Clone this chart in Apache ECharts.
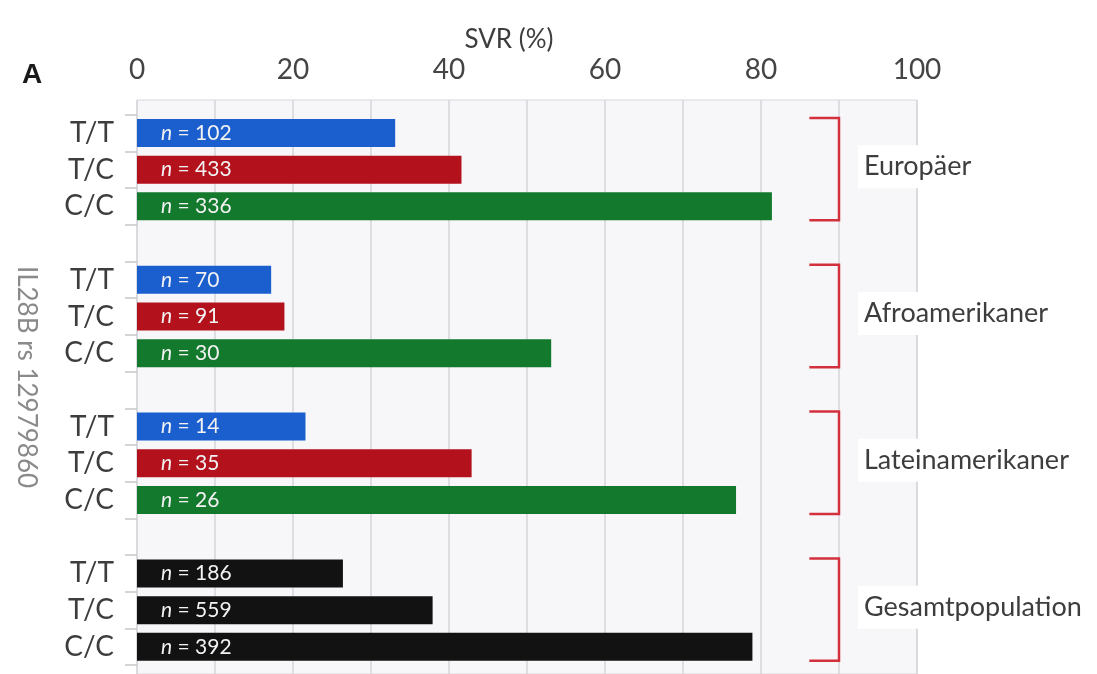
<!DOCTYPE html>
<html>
<head>
<meta charset="utf-8">
<script src="https://cdn.jsdelivr.net/npm/echarts@6/dist/echarts.min.js"></script>
<style>
  html, body { margin: 0; padding: 0; background: #ffffff; }
  #chart { width: 1097px; height: 674px; }
</style>
</head>
<body>
<div id="chart"></div>
<script>
// ---------- data ----------
const genotypes = ['T/T', 'T/C', 'C/C', '', 'T/T', 'T/C', 'C/C', '', 'T/T', 'T/C', 'C/C', '', 'T/T', 'T/C', 'C/C'];
const svrValues = [33.1, 41.6, 81.4, null, 17.2, 18.9, 53.1, null, 21.6, 42.9, 76.8, null, 26.4, 37.9, 78.9];
const nValues   = [102, 433, 336, null, 70, 91, 30, null, 14, 35, 26, null, 186, 559, 392];
const groupNames = ['Europäer', 'Afroamerikaner', 'Lateinamerikaner', 'Gesamtpopulation'];
const groupStart = [0, 4, 8, 12];
const groupEnd   = [2, 6, 10, 14];
const xTickLabels = ['0', '20', '40', '60', '80', '100'];
const yAxisTitle = 'IL28B rs 12979860';
const xAxisTitle = 'SVR (%)';
const panelLetter = 'A';

// ---------- styles ----------
const genoColors = { 'T/T': '#1b5fcf', 'T/C': '#b3121c', 'C/C': '#13792d' };
const totalColor = '#121212';
const FONT = 'Lato, "Open Sans", sans-serif';
const textGray = '#3d3d3d';

const barData = svrValues.map((v, i) => {
  if (v === null) return '-';
  const color = i >= groupStart[3] ? totalColor : genoColors[genotypes[i]];
  return { value: v, itemStyle: { color: color } };
});

const bracketData = groupNames.map((g, i) => [groupStart[i], groupEnd[i], i]);

const chart = echarts.init(document.getElementById('chart'), null, { renderer: 'canvas' });

const option = {
  animation: false,
  backgroundColor: '#ffffff',
  textStyle: { fontFamily: FONT },
  graphic: [
    { type: 'text', left: 22, top: 61, style: { text: panelLetter, font: 'bold 28px "Liberation Sans", Arial, sans-serif', fill: '#1a1a1a' } },
    { type: 'text', x: 509, y: 40, style: { text: xAxisTitle, font: '26px ' + FONT, fill: textGray, align: 'center', verticalAlign: 'middle' } },
    { type: 'text', x: 26, y: 377, rotation: -Math.PI / 2, style: { text: yAxisTitle, font: '26px ' + FONT, fill: '#8a8a8a', align: 'center', verticalAlign: 'middle' } }
  ],
  grid: [
    { left: 137, right: 180, top: 100, bottom: 0, show: true, backgroundColor: '#f7f7f9', borderColor: '#d8d8dc', borderWidth: 1 },
    { left: 137, right: 180, top: 114.6, height: 550.6 }
  ],
  xAxis: [
    {
      gridIndex: 0, type: 'value', position: 'top', min: 0, max: 100, interval: 10,
      axisLine: { show: false }, axisTick: { show: false },
      splitLine: { show: true, lineStyle: { color: '#d6d6da', width: 1.5 } },
      axisLabel: {
        margin: 16, fontSize: 28, color: '#454545', fontFamily: FONT,
        formatter: function (v) { return xTickLabels.indexOf(String(v)) >= 0 ? String(v) : ''; }
      }
    },
    { gridIndex: 1, type: 'value', min: 0, max: 100, show: false }
  ],
  yAxis: [
    { gridIndex: 0, type: 'value', show: false },
    {
      gridIndex: 1, type: 'category', inverse: true, data: genotypes,
      axisLine: { show: false },
      axisTick: { show: true, length: 12, lineStyle: { color: '#c8c8cc', width: 1.5 } },
      axisLabel: { margin: 23, fontSize: 28, color: textGray, fontFamily: FONT }
    }
  ],
  series: [
    {
      type: 'bar', xAxisIndex: 1, yAxisIndex: 1, barWidth: 28,
      data: barData,
      label: {
        show: true, position: 'insideLeft', distance: 24,
        formatter: function (p) { return '{i|n} = ' + nValues[p.dataIndex]; },
        color: '#f2f2f2', fontSize: 21, fontFamily: FONT,
        rich: { i: { fontStyle: 'italic', fontSize: 21, color: '#f2f2f2', fontFamily: FONT } }
      }
    },
    {
      type: 'custom', xAxisIndex: 1, yAxisIndex: 1, clip: false, silent: true,
      data: bracketData,
      renderItem: function (params, api) {
        const s = api.value(0), e = api.value(1), gi = api.value(2);
        const pTop = api.coord([86.2, s]);
        const pBot = api.coord([86.2, e]);
        const xv = api.coord([90, s])[0];
        const yTop = pTop[1] - 15;
        const yBot = pBot[1] + 14;
        const mid = api.coord([93.2, (s + e) / 2]);
        return {
          type: 'group',
          children: [
            {
              type: 'polyline',
              shape: { points: [[pTop[0], yTop], [xv, yTop], [xv, yBot], [pBot[0], yBot]] },
              style: { stroke: '#d3303e', lineWidth: 2.5, fill: null }
            },
            {
              type: 'text',
              x: mid[0] - 6, y: mid[1] - 3,
              style: {
                text: groupNames[gi], font: '27px ' + FONT, fill: textGray,
                align: 'left', verticalAlign: 'middle',
                backgroundColor: '#ffffff', padding: [8, 6, 8, 6]
              }
            }
          ]
        };
      }
    }
  ]
};

chart.setOption(option);
</script>
</body>
</html>
